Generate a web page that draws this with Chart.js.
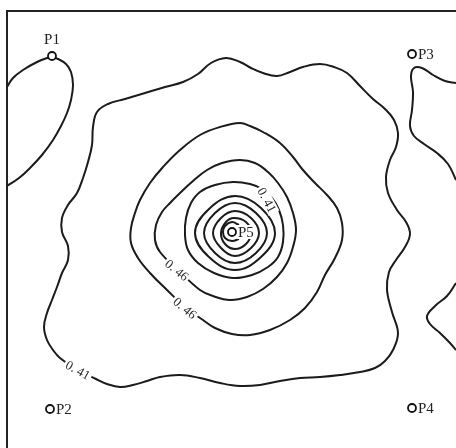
<!DOCTYPE html>
<html>
<head>
<meta charset="utf-8">
<script src="https://cdn.jsdelivr.net/npm/chart.js@4.4.1/dist/chart.umd.min.js"></script>
<style>
  html, body { margin: 0; padding: 0; background: #fff; overflow: hidden; }
  #wrap { position: fixed; left: 0; top: 0; width: 100vw; height: 100vh; }
</style>
</head>
<body>
<div id="wrap"><canvas id="map"></canvas></div>
<script>
// measuring points
const stationNames = ["P1", "P2", "P3", "P4", "P5"];
const stationX = [52, 50, 412, 412, 232];
const stationY = [56, 409, 54, 408, 232];

// contour lines, map coordinates
const contourP1 = [
    [7, 87], [13, 78], [23, 70], [37, 62], [47, 58], [52, 57], [58, 59], [66, 64], [71, 72], [73, 85],
    [71, 100], [67, 113], [61, 126], [53, 140], [42, 155], [30, 168], [19, 178], [7, 186]
];
const contourP3 = [
    [456, 83], [445, 81], [433, 75], [422, 68], [414, 68], [411, 76], [413, 92], [412, 110], [410, 126],
    [414, 136], [424, 144], [437, 153], [448, 164], [456, 180]
];
const contourP4 = [
    [456, 283], [447, 296], [435, 306], [427, 316], [430, 324], [440, 333], [450, 343], [456, 350]
];
const contourOuter = [
    [97, 112], [108, 104], [125, 99], [145, 93], [165, 87], [183, 82], [198, 74], [211, 63], [226, 58],
    [240, 62], [251, 68], [263, 73], [277, 76], [290, 72], [303, 67], [320, 64], [334, 67], [347, 73],
    [360, 86], [373, 99], [385, 109], [394, 120], [398, 133], [396, 147], [390, 160], [386, 177],
    [388, 193], [397, 210], [406, 222], [410, 234], [405, 247], [396, 260], [389, 272], [387, 290],
    [392, 312], [398, 333], [393, 350], [385, 361], [375, 368], [360, 372], [340, 375], [320, 377],
    [300, 378], [280, 381], [260, 385], [240, 386], [220, 383], [200, 378], [180, 375], [160, 377],
    [147, 381], [133, 385], [120, 387], [107, 384], [96, 379], [78, 370], [60, 358], [53, 350],
    [47, 340], [44, 327], [47, 313], [52, 300], [57, 287], [62, 273], [68, 260], [68, 246], [62, 232],
    [62, 218], [68, 205], [77, 193], [83, 178], [88, 162], [92, 145], [93, 127]
];
const contourRing2 = [
    [240, 123], [250, 126], [263, 132], [280, 143], [293, 157], [303, 170], [315, 183], [327, 195],
    [337, 208], [342, 223], [342, 240], [335, 258], [325, 275], [317, 292], [305, 308], [290, 320],
    [270, 330], [250, 335], [232, 334], [215, 328], [203, 320], [185, 307], [167, 290], [150, 273],
    [138, 258], [131, 243], [131, 228], [135, 213], [140, 200], [150, 183], [163, 167], [180, 150],
    [200, 135], [220, 127]
];
const contourRing3 = [
    [240, 160], [255, 163], [268, 172], [278, 183], [287, 197], [293, 213], [296, 230], [293, 247],
    [287, 263], [277, 277], [263, 289], [247, 297], [230, 300], [213, 296], [200, 290], [178, 270],
    [160, 252], [155, 240], [156, 225], [162, 212], [170, 203], [180, 193], [193, 181], [207, 170],
    [222, 163]
];
const contourRing4 = [
    [233, 182], [250, 184], [262, 189], [272, 198], [279, 210], [283, 225], [283, 242], [278, 257],
    [268, 267], [252, 275], [233, 278], [214, 273], [198, 263], [188, 250], [185, 235], [186, 218],
    [191, 203], [200, 192], [215, 185]
];
const contourRingA = [
    [195, 233], [209, 209], [235, 196], [261, 208], [275, 233], [261, 257], [235, 270], [209, 257]
];
const contourRingB = [
    [204, 233], [215, 213], [235, 203], [256, 213], [267, 233], [256, 253], [235, 263], [215, 253]
];
const contourRingC = [
    [213, 233], [221, 218], [235, 211], [251, 218], [259, 233], [251, 248], [235, 256], [221, 248]
];
const contourRingD = [
    [221, 233], [226, 222], [234, 218], [246, 222], [251, 233], [246, 244], [235, 249], [225, 244]
];
const contourRingE = [
    [239, 225], [232, 222], [225, 226], [223, 232], [225, 238], [232, 241], [239, 239]
];

// contour value labels
const labelText = ["0. 41", "0. 46", "0. 46", "0. 41"];
const labelX = [267, 177, 185, 78];
const labelY = [200, 270, 308, 370];
const labelAngle = [62, 39, 40, 29];

const ink = "#1b1b1b";
const serif = '"Liberation Serif", "DejaVu Serif", serif';

function toXY(pts) {
    return pts.map(p => ({ x: p[0], y: p[1] }));
}

function openLine(pts) {
    return {
        type: "scatter",
        data: toXY(pts),
        showLine: true,
        tension: 0.4,
        borderColor: ink,
        borderWidth: 2,
        pointRadius: 0,
        fill: false
    };
}

// closed ring: wrap the ends so the spline is smooth at the join, hide the wrap segments
function closedLine(pts) {
    const wrapped = [pts[pts.length - 1], ...pts, pts[0], pts[1]];
    const n = wrapped.length;
    const ds = openLine(wrapped);
    ds.segment = {
        borderColor: ctx => (ctx.p0DataIndex === 0 || ctx.p1DataIndex === n - 1) ? "rgba(0,0,0,0)" : ink
    };
    return ds;
}

const framePlugin = {
    id: "frame",
    beforeDatasetsDraw(chart) {
        const { ctx, chartArea: a } = chart;
        ctx.save();
        ctx.strokeStyle = "#222";
        ctx.lineWidth = 2;
        ctx.beginPath();
        ctx.moveTo(a.left, a.bottom);
        ctx.lineTo(a.left, a.top);
        ctx.lineTo(a.right, a.top);
        ctx.stroke();
        ctx.restore();
    }
};

const labelPlugin = {
    id: "labels",
    afterDatasetsDraw(chart) {
        const ctx = chart.ctx;
        const xs = chart.scales.x, ys = chart.scales.y;
        ctx.save();

        // contour values, written along the line
        ctx.font = "13px " + serif;
        ctx.textAlign = "center";
        ctx.textBaseline = "middle";
        labelText.forEach((t, i) => {
            const px = xs.getPixelForValue(labelX[i]);
            const py = ys.getPixelForValue(labelY[i]);
            const w = ctx.measureText(t).width;
            ctx.save();
            ctx.translate(px, py);
            ctx.rotate(labelAngle[i] * Math.PI / 180);
            ctx.fillStyle = "#fff";
            ctx.fillRect(-w / 2 - 2, -6, w + 4, 12);
            ctx.fillStyle = "#2a2a2a";
            ctx.fillText(t, 0, 1);
            ctx.restore();
        });

        // station names
        const meta = chart.getDatasetMeta(0);
        ctx.font = "15px " + serif;
        stationNames.forEach((name, i) => {
            const pt = meta.data[i];
            if (i === 0) {
                ctx.fillStyle = "#222";
                ctx.textAlign = "center";
                ctx.textBaseline = "bottom";
                ctx.fillText(name, pt.x, pt.y - 8);
            } else {
                ctx.textAlign = "left";
                ctx.textBaseline = "middle";
                const w = ctx.measureText(name).width;
                ctx.fillStyle = "#fff";
                ctx.fillRect(pt.x + 5, pt.y - 7, w + 3, 14);
                ctx.fillStyle = "#222";
                ctx.fillText(name, pt.x + 6, pt.y + 1);
            }
        });
        ctx.restore();
    }
};

new Chart(document.getElementById("map"), {
    type: "scatter",
    data: {
        datasets: [
            {
                type: "scatter",
                data: stationNames.map((n, i) => ({ x: stationX[i], y: stationY[i] })),
                pointRadius: 4,
                pointBackgroundColor: "#fff",
                pointBorderColor: "#111",
                pointBorderWidth: 1.8,
                showLine: false
            },
            openLine(contourP1),
            openLine(contourP3),
            openLine(contourP4),
            closedLine(contourOuter),
            closedLine(contourRing2),
            closedLine(contourRing3),
            closedLine(contourRing4),
            closedLine(contourRingA),
            closedLine(contourRingB),
            closedLine(contourRingC),
            closedLine(contourRingD),
            openLine(contourRingE)
        ]
    },
    options: {
        responsive: true,
        maintainAspectRatio: false,
        animation: false,
        events: [],
        layout: { autoPadding: false, padding: { left: 7, top: 11, right: 0, bottom: 0 } },
        plugins: {
            legend: { display: false },
            tooltip: { enabled: false }
        },
        scales: {
            x: { type: "linear", display: false, min: 7, max: 456 },
            y: { type: "linear", display: false, min: 11, max: 448, reverse: true }
        }
    },
    plugins: [framePlugin, labelPlugin]
});
</script>
</body>
</html>
